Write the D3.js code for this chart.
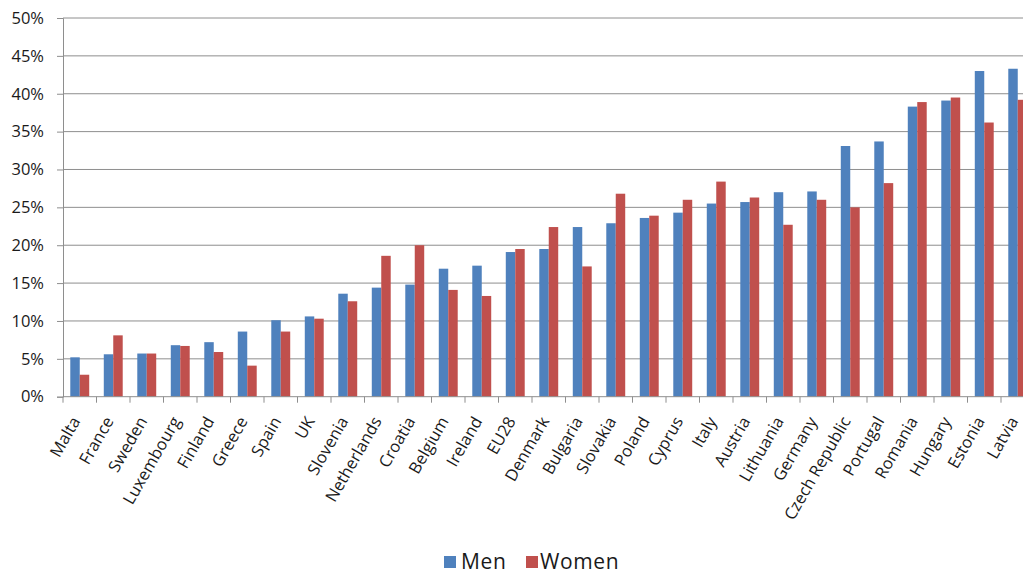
<!DOCTYPE html>
<html>
<head>
<meta charset="utf-8">
<script src="https://cdn.jsdelivr.net/npm/d3@7"></script>
<style>
  html, body { margin: 0; padding: 0; background: #fff; }
  svg { display: block; }
  text { font-family: "Open Sans", "Noto Sans", sans-serif; fill: #1a1a1a; }
</style>
</head>
<body>
<svg id="chart" width="1023" height="574"></svg>
<script>
const countries = ["Malta","France","Sweden","Luxembourg","Finland","Greece","Spain","UK","Slovenia","Netherlands","Croatia","Belgium","Ireland","EU28","Denmark","Bulgaria","Slovakia","Poland","Cyprus","Italy","Austria","Lithuania","Germany","Czech Republic","Portugal","Romania","Hungary","Estonia","Latvia"];
const men   = [5.2,5.6,5.7,6.8,7.2,8.6,10.1,10.6,13.6,14.4,14.8,16.9,17.3,19.1,19.5,22.4,22.9,23.6,24.3,25.5,25.7,27.0,27.1,33.1,33.7,38.3,39.1,43.0,43.3];
const women = [2.9,8.1,5.7,6.7,5.9,4.1,8.6,10.3,12.6,18.6,20.0,14.1,13.3,19.5,22.4,17.2,26.8,23.9,26.0,28.4,26.3,22.7,26.0,25.0,28.2,38.9,39.5,36.2,39.2];
const seriesNames = ["Men","Women"];
const seriesColors = ["#4F81BD","#C0504D"];
const yTicks = [0,5,10,15,20,25,30,35,40,45,50];

const svg = d3.select("#chart");
const x0 = 63, x1 = 63 + 29 * 33.5;
const yBottom = 396.7, yTop = 18;

const x = d3.scaleBand().domain(countries).range([x0, x1]).paddingInner(0.435).paddingOuter(0.2175);
const xs = d3.scaleBand().domain(seriesNames).range([0, x.bandwidth()]);
const y = d3.scaleLinear().domain([0, 50]).range([yBottom, yTop]);

// gridlines
svg.append("g").selectAll("line").data(yTicks.filter(d => d > 0)).join("line")
  .attr("x1", x0).attr("x2", x1)
  .attr("y1", d => y(d)).attr("y2", d => y(d))
  .attr("stroke", "#8e8e8e").attr("stroke-width", 1);

// bars
const data = countries.map((c, i) => ({c, vals: [men[i], women[i]]}));
const groups = svg.append("g").selectAll("g").data(data).join("g")
  .attr("transform", d => `translate(${x(d.c)},0)`);
groups.selectAll("rect").data(d => d.vals.map((v, j) => ({v, s: seriesNames[j], color: seriesColors[j]}))).join("rect")
  .attr("x", d => xs(d.s))
  .attr("width", xs.bandwidth())
  .attr("y", d => y(d.v))
  .attr("height", d => yBottom - y(d.v))
  .attr("fill", d => d.color);

// y axis
const yAxis = d3.axisLeft(y).tickValues(yTicks).tickFormat(d => d + "%").tickSize(6).tickPadding(13);
const ya = svg.append("g").attr("transform", `translate(${x0},0)`).call(yAxis);
ya.select(".domain").attr("stroke", "#8e8e8e");
ya.selectAll(".tick line").attr("stroke", "#8e8e8e");
ya.selectAll(".tick text").style("font-size", "16.5px").style("font-family", "'Open Sans', sans-serif").attr("fill", "#1a1a1a");

// x axis line and tick marks at category boundaries
svg.append("line").attr("x1", x0).attr("x2", x1).attr("y1", yBottom).attr("y2", yBottom).attr("stroke", "#8e8e8e");
const step = x.step();
svg.append("g").selectAll("line").data(d3.range(countries.length + 1)).join("line")
  .attr("x1", i => x0 + i * step).attr("x2", i => x0 + i * step)
  .attr("y1", yBottom).attr("y2", yBottom + 6)
  .attr("stroke", "#8e8e8e");

// x labels
svg.append("g").selectAll("text").data(countries).join("text")
  .attr("transform", d => `translate(${x(d) + x.bandwidth() / 2 + 1},${421}) rotate(-60)`)
  .attr("text-anchor", "end")
  .style("font-size", "16.5px")
  .text(d => d);

// legend
const legend = [
  {name: "Men", color: seriesColors[0], sx: 444, tx: 461},
  {name: "Women", color: seriesColors[1], sx: 526, tx: 540}
];
const lg = svg.append("g");
lg.selectAll("rect").data(legend).join("rect")
  .attr("x", d => d.sx).attr("y", 556).attr("width", 12).attr("height", 12)
  .attr("fill", d => d.color);
lg.selectAll("text").data(legend).join("text")
  .attr("x", d => d.tx).attr("y", 568.5)
  .style("font-size", "21px")
  .style("letter-spacing", "0.6px")
  .text(d => d.name);
</script>
</body>
</html>
